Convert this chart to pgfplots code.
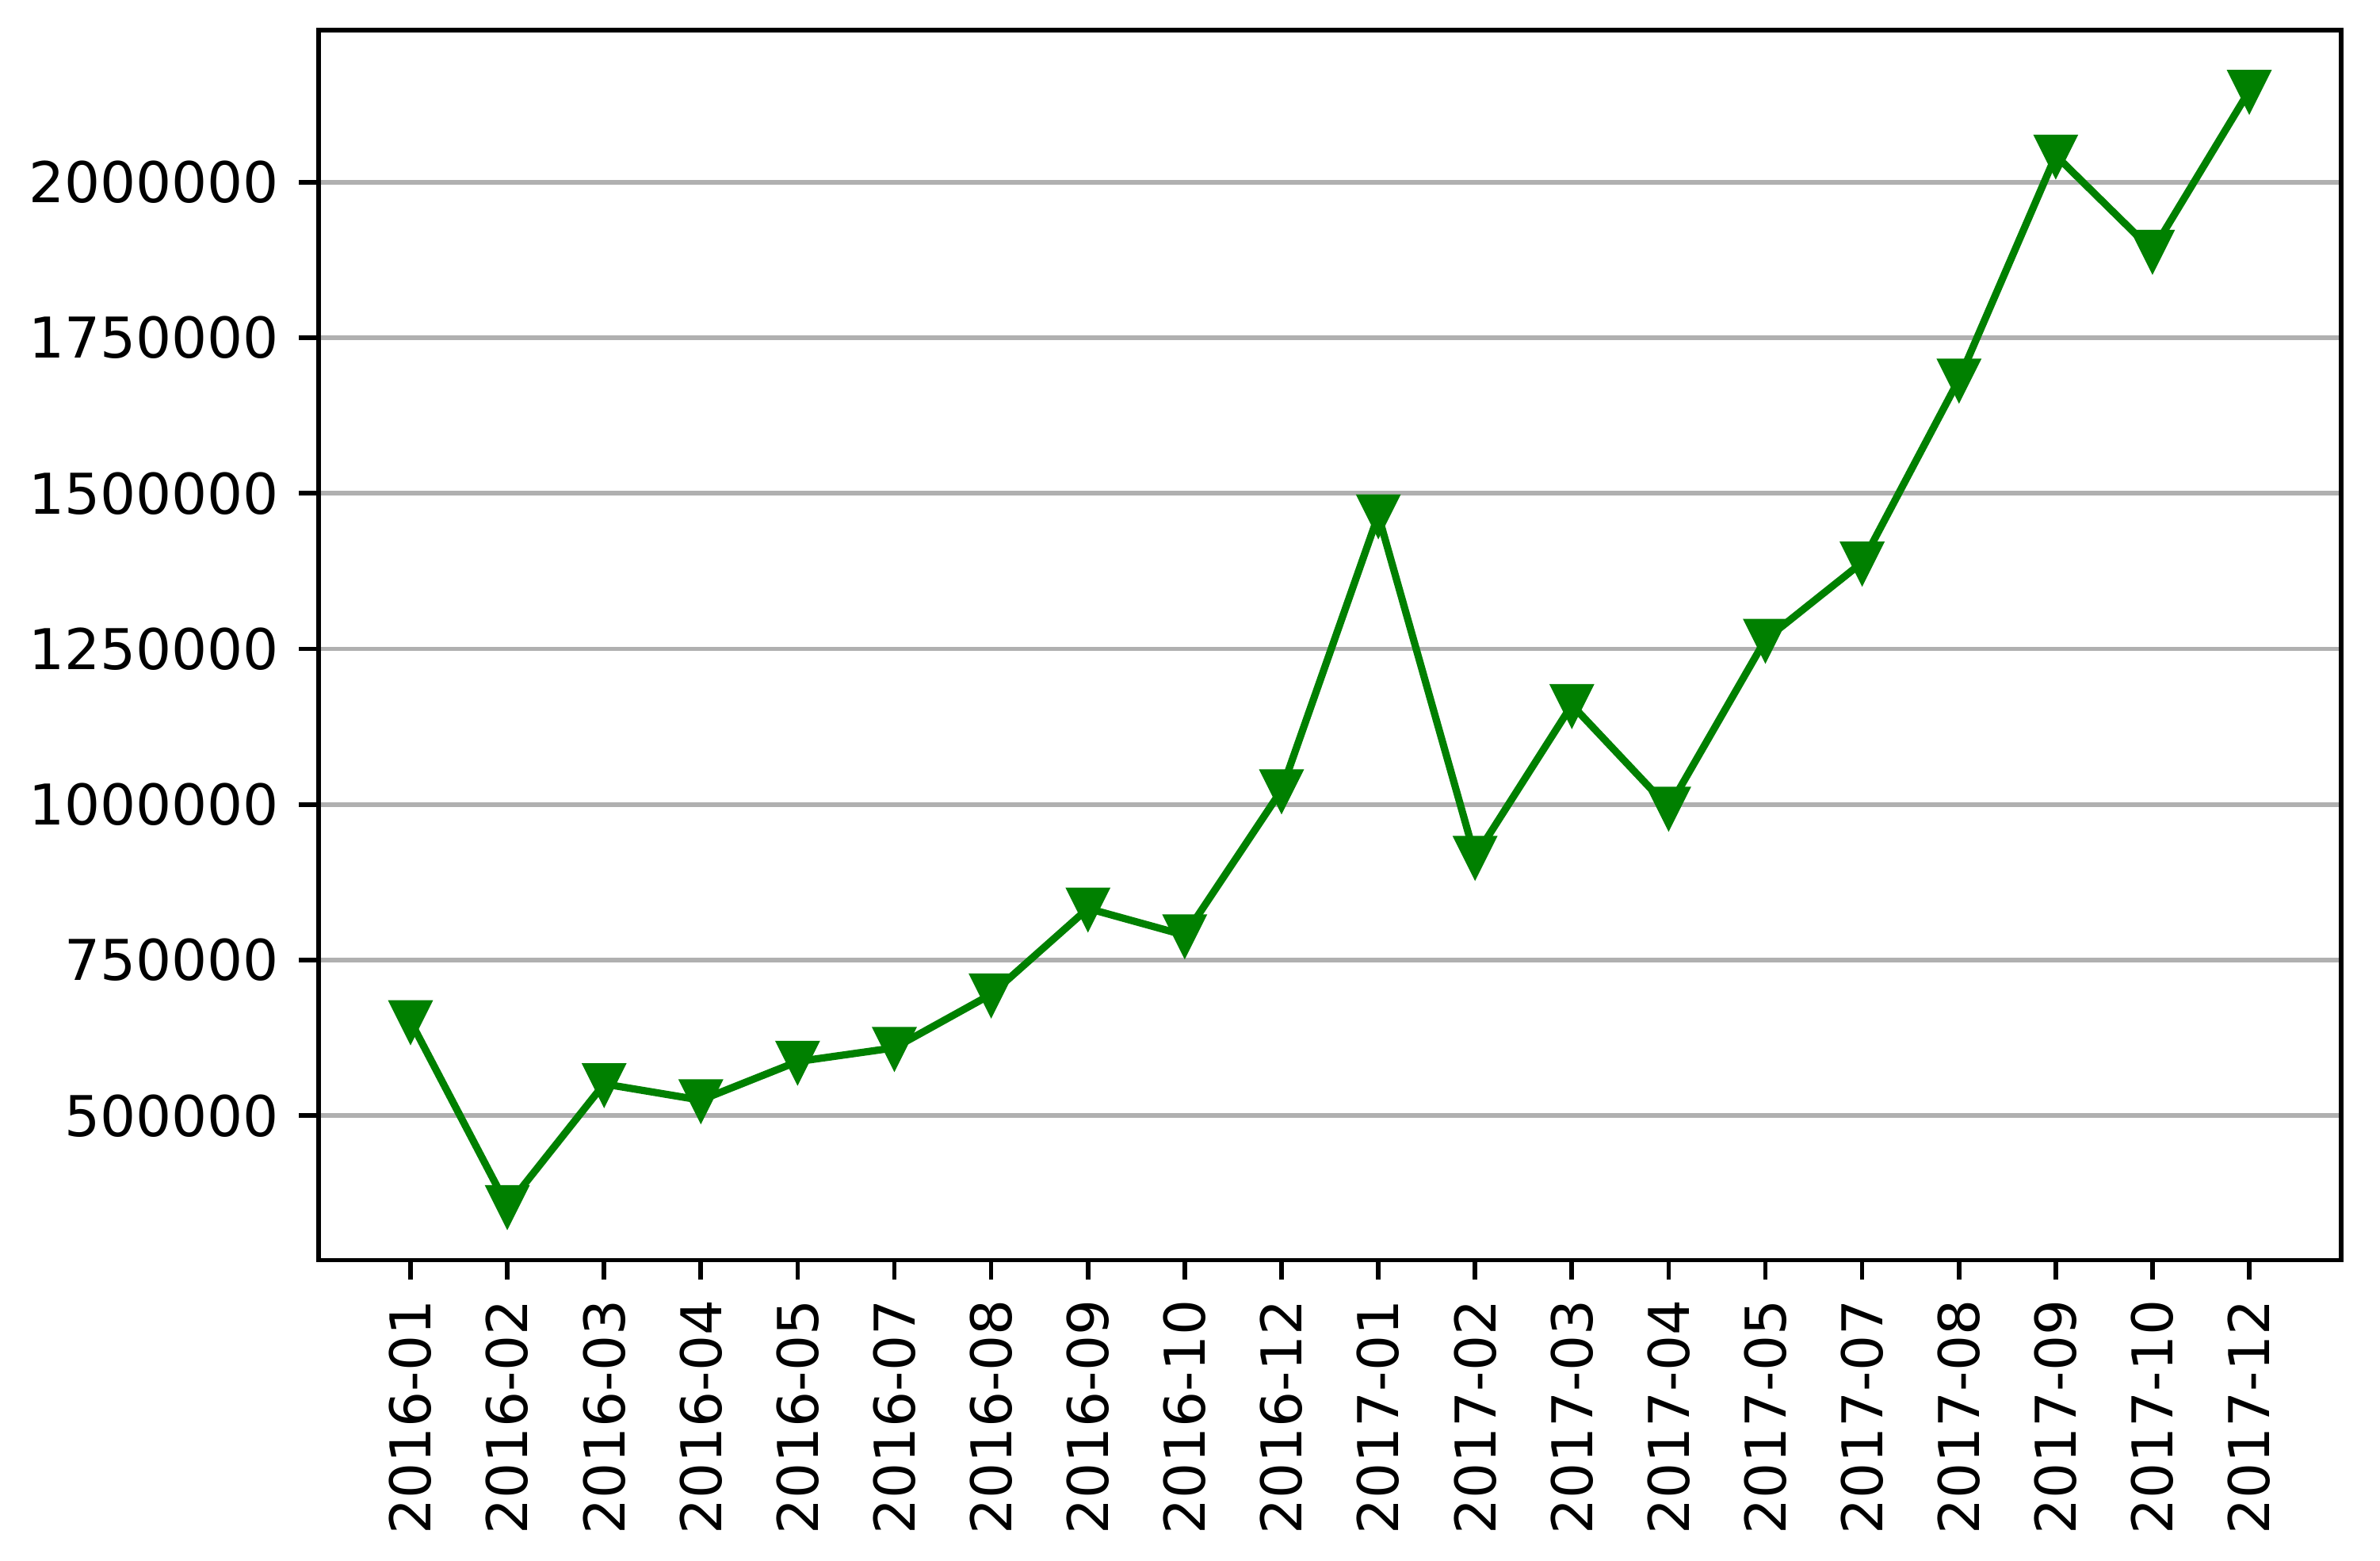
\documentclass[border=0pt]{standalone}
\usepackage{pgfplots}
\pgfplotsset{compat=1.18}
\usepackage{fontspec}
\setmainfont{DejaVu Sans}

\definecolor{mplgreen}{HTML}{008000}
\definecolor{gridgray}{HTML}{B0B0B0}

% matplotlib-style 'v' marker: bounding box centred on the point
\pgfdeclareplotmark{trivdown}{%
  \pgfpathmoveto{\pgfqpoint{0pt}{-\pgfplotmarksize}}%
  \pgfpathlineto{\pgfqpoint{-\pgfplotmarksize}{\pgfplotmarksize}}%
  \pgfpathlineto{\pgfqpoint{\pgfplotmarksize}{\pgfplotmarksize}}%
  \pgfpathclose
  \pgfusepathqfillstroke}

\begin{document}
\begin{tikzpicture}
\begin{axis}[
    scale only axis,
    width=360pt, height=218.8pt,
    xmin=-0.95, xmax=19.95,
    ymin=268000, ymax=2244000,
    xtick={0,...,19},
    xticklabels={2016-01,2016-02,2016-03,2016-04,2016-05,2016-07,2016-08,2016-09,2016-10,2016-12,
                 2017-01,2017-02,2017-03,2017-04,2017-05,2017-07,2017-08,2017-09,2017-10,2017-12},
    x tick label style={rotate=90, anchor=east},
    ytick={500000,750000,1000000,1250000,1500000,1750000,2000000},
    scaled y ticks=false,
    yticklabel style={/pgf/number format/fixed, /pgf/number format/1000 sep={}},
    /pgf/number format/assume math mode=true,
    tick label style={font=\fontsize{10}{12}\selectfont, black},
    tick align=outside,
    major tick length=3.5pt,
    tick style={black, line width=0.8pt},
    axis line style={line width=0.8pt},
    ymajorgrids,
    major grid style={gridgray, line width=0.8pt},
    xtick pos=bottom, ytick pos=left,
    clip=false,
]
\addplot[mplgreen, line width=1.3pt, mark=trivdown, mark size=3.2pt,
         mark options={fill=mplgreen, draw=mplgreen, line width=1pt, solid}]
  coordinates {
    (0,652000) (1,355000) (2,551000) (3,525000) (4,587000)
    (5,609000) (6,695000) (7,833000) (8,790000) (9,1023000)
    (10,1465000) (11,916000) (12,1160000) (13,995000) (14,1265000)
    (15,1389000) (16,1683000) (17,2043000) (18,1890000) (19,2147000)
  };
\end{axis}
\path ([xshift=-1.8pt,yshift=-1.3pt]current axis.outer south west)
      rectangle ([xshift=6.5pt,yshift=5pt]current axis.outer north east);
\end{tikzpicture}
\end{document}
